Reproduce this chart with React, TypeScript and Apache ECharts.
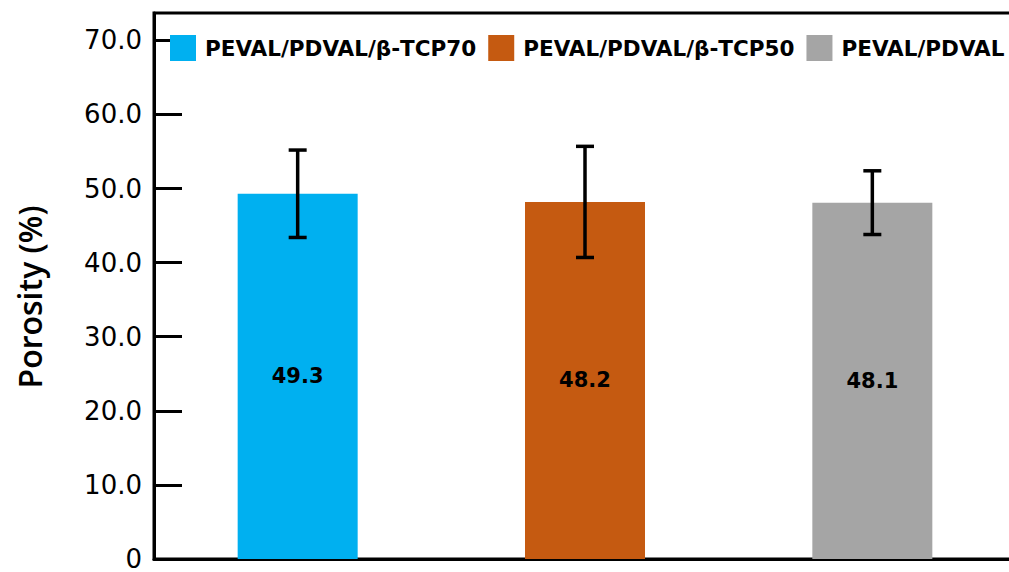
import React, { useEffect, useRef } from "react";
import * as echarts from "echarts";

// Samples and their measured porosity (%) with standard deviation
const samples = ["PEVAL/PDVAL/β-TCP70", "PEVAL/PDVAL/β-TCP50", "PEVAL/PDVAL"];
const porosity = [49.3, 48.2, 48.1];
const stdDev = [5.9, 7.5, 4.3];
const colors = ["#00B0F0", "#C55A11", "#A5A5A5"];
const yTicks = [0, 10, 20, 30, 40, 50, 60, 70];
const yTitle = "Porosity (%)";

export default function App() {
  const ref = useRef<HTMLDivElement>(null);

  useEffect(() => {
    if (!ref.current) return;
    const chart = echarts.init(ref.current, undefined, { renderer: "svg" });

    const barSeries = samples.map((name, i) => ({
      name,
      type: "bar",
      barWidth: 120,
      barGap: "-100%",
      itemStyle: { color: colors[i] },
      label: {
        show: true,
        position: "inside",
        color: "#000",
        fontFamily: "DejaVu Sans",
        fontWeight: "bold",
        fontSize: 21,
        formatter: (p: any) => p.value.toFixed(1),
      },
      data: samples.map((_, j) => (j === i ? porosity[i] : "-")),
      z: 2,
    }));

    const errorData = porosity.map((v, i) => [i, v - stdDev[i], v + stdDev[i]]);

    chart.setOption({
      animation: false,
      backgroundColor: "#fff",
      grid: {
        left: 154,
        top: 13,
        right: 0,
        bottom: 12,
        show: true,
        borderColor: "#000",
        borderWidth: 3,
      },
      legend: {
        data: samples,
        left: 170,
        top: 35,
        width: 846,
        padding: 0,
        itemWidth: 26,
        itemHeight: 26,
        itemGap: 12,
        icon: "rect",
        textStyle: {
          color: "#000",
          fontFamily: "DejaVu Sans",
          fontWeight: "bold",
          fontSize: 21.5,
          padding: [0, 0, 0, 4],
        },
      },
      graphic: [
        {
          type: "text",
          x: 29,
          y: 297,
          rotation: Math.PI / 2,
          style: {
            text: yTitle,
            fill: "#000",
            fontFamily: "Open Sans",
            fontWeight: 600,
            fontSize: 32,
            align: "center",
            verticalAlign: "middle",
          },
        },
      ],
      xAxis: {
        type: "category",
        data: samples,
        axisLine: { lineStyle: { color: "#000", width: 3 } },
        axisTick: { show: false },
        axisLabel: { show: false },
      },
      yAxis: {
        type: "value",
        min: 0,
        max: 73.7,
        interval: 10,
        splitLine: { show: false },
        axisLine: { show: true, lineStyle: { color: "#000", width: 3 } },
        axisTick: {
          show: true,
          inside: true,
          length: 28,
          customValues: yTicks.slice(1),
          lineStyle: { color: "#000", width: 3 },
        },
        axisLabel: {
          color: "#000",
          fontFamily: "DejaVu Sans",
          fontSize: 26,
          lineHeight: 22,
          margin: 12,
          customValues: yTicks,
          formatter: (v: number) => (v === 0 ? "0" : v.toFixed(1)),
        },
      },
      series: [
        ...barSeries,
        {
          type: "custom",
          name: "error",
          z: 5,
          encode: { x: 0, y: [1, 2] },
          data: errorData,
          renderItem: (params: any, api: any) => {
            const x = api.value(0);
            const lo = api.coord([x, api.value(1)]);
            const hi = api.coord([x, api.value(2)]);
            const half = 9;
            const style = { stroke: "#000", lineWidth: 3.5 };
            return {
              type: "group",
              children: [
                { type: "line", shape: { x1: lo[0], y1: lo[1], x2: hi[0], y2: hi[1] }, style },
                { type: "line", shape: { x1: hi[0] - half, y1: hi[1], x2: hi[0] + half, y2: hi[1] }, style },
                { type: "line", shape: { x1: lo[0] - half, y1: lo[1], x2: lo[0] + half, y2: lo[1] }, style },
              ],
            };
          },
        },
      ],
    });

    return () => chart.dispose();
  }, []);

  return (
    <div
      ref={ref}
      style={{ position: "fixed", left: 0, top: 0, width: 1016, height: 572 }}
    />
  );
}
